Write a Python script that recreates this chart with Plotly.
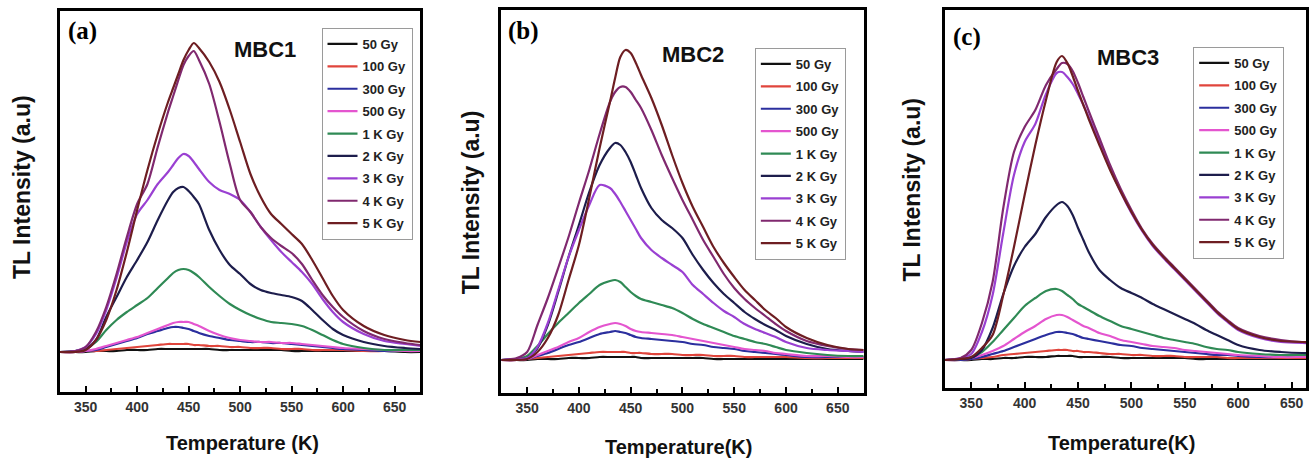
import plotly.graph_objects as go

W, H = 1309, 461

# Temperature grid (K)
T = [325, 340, 350, 360, 370, 380, 390, 400, 410, 420, 430, 435, 440, 445, 450, 455, 460,
     470, 480, 490, 500, 510, 520, 530, 540, 550, 560, 570, 580, 590, 600, 620, 640, 660, 675]

DOSES = ["50 Gy", "100 Gy", "300 Gy", "500 Gy", "1 K Gy", "2 K Gy", "3 K Gy", "4 K Gy", "5 K Gy"]
COLORS = ["#111111", "#e0453c", "#2b2f9e", "#e455cf", "#2f8a55", "#1d1d4c", "#9a40d2", "#80296f", "#6e1e22"]

# ---- MBC1 (a) ----
A_50 = [0, 0, 0, 1, 1, 1, 2, 2, 2, 3, 3, 3, 3, 3, 3, 3, 3, 3, 2, 2, 2, 2, 2, 2, 2, 1, 1, 1, 1, 1, 1, 1, 1, 0, 0]
A_100 = [0, 0, 1, 1, 2, 3, 4, 5, 6, 7, 8, 8, 8, 8, 8, 7, 7, 6, 6, 5, 5, 4, 4, 4, 3, 3, 3, 2, 2, 2, 2, 1, 1, 1, 1]
A_300 = [0, 0, 1, 2, 5, 8, 11, 14, 18, 21, 24, 25, 25, 24, 23, 21, 19, 16, 14, 12, 11, 10, 10, 9, 9, 8, 7, 6, 5, 4, 3, 2, 1, 1, 1]
A_500 = [0, 0, 1, 3, 6, 9, 12, 15, 19, 23, 27, 29, 30, 30, 30, 28, 26, 21, 17, 14, 12, 11, 10, 10, 9, 9, 8, 7, 6, 5, 4, 3, 2, 1, 1]
A_1K = [0, 1, 3, 10, 22, 32, 40, 47, 54, 64, 74, 79, 82, 83, 82, 79, 75, 65, 56, 48, 42, 37, 33, 30, 29, 28, 26, 22, 17, 12, 8, 4, 2, 2, 2]
A_2K = [0, 1, 3, 12, 35, 55, 75, 92, 110, 132, 152, 160, 164, 165, 161, 155, 148, 122, 102, 87, 78, 68, 62, 59, 57, 55, 51, 42, 32, 23, 17, 10, 6, 4, 3]
A_3K = [0, 1, 5, 18, 42, 74, 110, 138, 152, 168, 180, 187, 194, 198, 196, 190, 183, 170, 162, 158, 152, 140, 125, 112, 100, 90, 80, 68, 53, 40, 30, 18, 11, 8, 6]
A_4K = [0, 1, 5, 20, 45, 78, 115, 148, 168, 205, 240, 256, 272, 287, 296, 301, 292, 268, 230, 188, 152, 140, 125, 114, 106, 99, 88, 72, 57, 45, 35, 21, 13, 9, 7]
A_5K = [0, 0, 2, 12, 32, 62, 100, 142, 182, 218, 250, 264, 278, 292, 302, 309, 304, 290, 270, 242, 210, 178, 155, 138, 128, 118, 108, 92, 74, 56, 42, 26, 17, 12, 10]

# ---- MBC2 (b) ----
B_50 = [0, 0, 0, 1, 1, 1, 2, 2, 2, 3, 3, 3, 3, 3, 3, 3, 2, 2, 2, 2, 2, 2, 2, 1, 1, 1, 1, 1, 1, 1, 1, 1, 1, 1, 1]
B_100 = [0, 0, 1, 2, 3, 4, 5, 6, 7, 8, 8, 8, 8, 8, 7, 7, 7, 6, 6, 6, 5, 5, 5, 4, 4, 4, 3, 3, 3, 3, 3, 2, 2, 2, 2]
B_300 = [0, 0, 1, 4, 7, 11, 15, 18, 22, 26, 28, 29, 28, 27, 25, 23, 22, 21, 20, 19, 18, 16, 15, 13, 12, 11, 9, 8, 7, 6, 5, 3, 3, 3, 3]
B_500 = [0, 0, 1, 5, 9, 13, 18, 22, 28, 33, 36, 37, 36, 34, 31, 29, 28, 27, 26, 25, 23, 21, 19, 17, 15, 13, 11, 10, 9, 7, 6, 4, 4, 3, 3]
B_1K = [0, 1, 4, 14, 26, 37, 47, 57, 66, 75, 79, 80, 78, 73, 68, 64, 61, 58, 55, 52, 47, 41, 36, 32, 28, 24, 21, 18, 16, 13, 10, 7, 5, 4, 4]
B_2K = [0, 1, 2, 12, 35, 68, 103, 135, 168, 195, 212, 217, 215, 208, 198, 185, 172, 152, 140, 132, 122, 105, 90, 77, 66, 57, 48, 41, 35, 30, 24, 16, 11, 9, 8]
B_3K = [0, 1, 2, 13, 37, 70, 103, 130, 155, 175, 172, 166, 158, 149, 140, 131, 122, 110, 102, 95, 88, 75, 66, 57, 49, 43, 36, 31, 27, 23, 18, 12, 10, 9, 8]
B_4K = [0, 2, 8, 35, 62, 92, 123, 157, 190, 226, 258, 268, 273, 273, 268, 260, 252, 230, 205, 182, 160, 140, 120, 103, 86, 72, 61, 52, 44, 36, 29, 19, 14, 11, 10]
B_5K = [0, 0, 1, 8, 22, 45, 80, 115, 162, 212, 258, 282, 303, 310, 307, 297, 285, 262, 235, 205, 177, 153, 133, 113, 97, 83, 70, 60, 50, 42, 33, 22, 15, 11, 10]

# ---- MBC3 (c) ----
C_50 = [0, 0, 0, 1, 1, 2, 2, 3, 3, 3, 4, 4, 4, 4, 3, 3, 3, 3, 3, 2, 2, 2, 2, 2, 2, 2, 1, 1, 1, 1, 1, 1, 1, 1, 1]
C_100 = [0, 0, 1, 2, 3, 5, 6, 7, 8, 9, 10, 10, 10, 9, 9, 8, 8, 7, 6, 6, 5, 5, 4, 4, 4, 3, 3, 3, 3, 2, 2, 2, 2, 2, 2]
C_300 = [0, 0, 1, 3, 6, 9, 13, 17, 21, 25, 28, 28, 27, 26, 24, 22, 21, 19, 17, 15, 14, 12, 11, 10, 9, 8, 7, 6, 5, 5, 4, 3, 3, 3, 3]
C_500 = [0, 1, 2, 5, 9, 14, 21, 28, 34, 41, 45, 45, 43, 40, 37, 34, 32, 27, 24, 20, 18, 16, 14, 13, 12, 10, 9, 8, 7, 6, 5, 4, 3, 3, 3]
C_1K = [0, 1, 3, 8, 18, 30, 42, 54, 62, 69, 71, 69, 65, 61, 56, 53, 50, 44, 39, 34, 31, 28, 25, 22, 20, 18, 16, 13, 11, 10, 8, 6, 5, 5, 5]
C_2K = [0, 1, 2, 10, 32, 66, 94, 113, 126, 143, 155, 158, 154, 145, 132, 120, 108, 90, 80, 72, 67, 62, 56, 51, 46, 41, 36, 30, 25, 20, 15, 10, 8, 7, 7]
C_3K = [0, 2, 6, 28, 65, 127, 185, 218, 236, 266, 287, 288, 283, 276, 266, 255, 243, 218, 192, 168, 147, 129, 114, 102, 91, 80, 69, 58, 47, 38, 30, 22, 18, 17, 17]
C_4K = [0, 2, 10, 37, 78, 152, 208, 233, 250, 275, 291, 297, 296, 289, 277, 263, 249, 222, 195, 171, 150, 131, 116, 104, 93, 82, 71, 60, 49, 40, 32, 24, 20, 18, 18]
C_5K = [0, 1, 3, 12, 25, 65, 113, 165, 215, 260, 298, 304, 297, 284, 269, 255, 241, 215, 190, 168, 148, 130, 115, 103, 92, 81, 70, 59, 48, 39, 31, 23, 19, 18, 18]

X_TICKS = [350, 400, 450, 500, 550, 600, 650]
X_MINOR = [375, 425, 475, 525, 575, 625]

PANELS = [
    dict(series=[A_50, A_100, A_300, A_500, A_1K, A_2K, A_3K, A_4K, A_5K],
         box=(60, 421, 11, 392), yr=(-40, 341), xr=(325, 675),
         legend_xy=(322, 28), label="(a)", label_xy=(83, 31), name="MBC1", name_xy=(265, 49),
         xtitle="Temperature (K)", xtitle_xy=(243, 443), ytitle_xy=(22, 187)),
    dict(series=[B_50, B_100, B_300, B_500, B_1K, B_2K, B_3K, B_4K, B_5K],
         box=(502, 865, 10, 393), yr=(-33, 350), xr=(325, 675),
         legend_xy=(756, 48), label="(b)", label_xy=(524, 31), name="MBC2", name_xy=(694, 54),
         xtitle="Temperature(K)", xtitle_xy=(680, 447), ytitle_xy=(472, 202)),
    dict(series=[C_50, C_100, C_300, C_500, C_1K, C_2K, C_3K, C_4K, C_5K],
         box=(946, 1308, 10, 388), yr=(-28, 350), xr=(325, 663.5),
         legend_xy=(1195, 47), label="(c)", label_xy=(968, 37), name="MBC3", name_xy=(1130, 57),
         xtitle="Temperature(K)", xtitle_xy=(1123, 443), ytitle_xy=(913, 190)),
]

SANS = "Arial, Liberation Sans, sans-serif"
SERIF = "Times New Roman, Liberation Serif, serif"


def px(x):
    return x / W


def py(y):
    return 1 - y / H


def note(text, xy, font, angle=0):
    return dict(text=text, x=px(xy[0]), y=py(xy[1]), xref="paper", yref="paper",
                xanchor="center", yanchor="middle", textangle=angle, showarrow=False, font=font)


fig = go.Figure()
layout = dict(width=W, height=H, margin=dict(l=0, r=0, t=0, b=0), autosize=False,
              paper_bgcolor="white", plot_bgcolor="white", annotations=[])

for i, p in enumerate(PANELS):
    k = "" if i == 0 else str(i + 1)
    leg = "legend" + k
    for dose, color, ys in zip(DOSES, COLORS, p["series"]):
        fig.add_trace(go.Scatter(
            x=T, y=ys, mode="lines", name=dose,
            line=dict(color=color, width=2.2, shape="spline", smoothing=0.8),
            xaxis="x" + k, yaxis="y" + k, legend=leg, legendgroup=f"{i}-{dose}"))
    x0, x1, y0, y1 = p["box"]
    layout["xaxis" + k] = dict(
        domain=[px(x0), px(x1)], range=list(p["xr"]), anchor="y" + k,
        showline=True, linewidth=3, linecolor="black", mirror=True,
        ticks="inside", tickvals=X_TICKS, ticklen=6, tickwidth=2, tickcolor="black",
        minor=dict(ticks="inside", tickvals=X_MINOR, ticklen=4, tickwidth=1.5, tickcolor="black"),
        tickfont=dict(family=SANS, size=14, color="#333", weight="bold"),
        showgrid=False, zeroline=False)
    layout["yaxis" + k] = dict(
        domain=[py(y1), py(y0)], range=list(p["yr"]), anchor="x" + k,
        showline=True, linewidth=3, linecolor="black", mirror=True,
        ticks="", showticklabels=False, showgrid=False, zeroline=False)
    lx, ly = p["legend_xy"]
    layout[leg] = dict(x=px(lx), y=py(ly), xanchor="left", yanchor="top",
                       bgcolor="white", bordercolor="#9a9a9a", borderwidth=1,
                       font=dict(family=SANS, size=13, color="#222", weight="bold"),
                       tracegroupgap=2.5, itemwidth=30)
    ann = layout["annotations"]
    ann.append(note(p["label"], p["label_xy"], dict(family=SERIF, size=25, color="black", weight="bold")))
    ann.append(note(p["name"], p["name_xy"], dict(family=SANS, size=22, color="#111", weight="bold")))
    ann.append(note(p["xtitle"], p["xtitle_xy"], dict(family=SANS, size=20, color="#111", weight="bold")))
    ann.append(note("TL Intensity (a.u)", p["ytitle_xy"], dict(family=SANS, size=23, color="#111", weight="bold"), -90))

fig.update_layout(**layout)
fig.write_html("out.html", config={"displayModeBar": False},
               post_script="document.body.style.margin='0';document.body.style.overflow='hidden';")
